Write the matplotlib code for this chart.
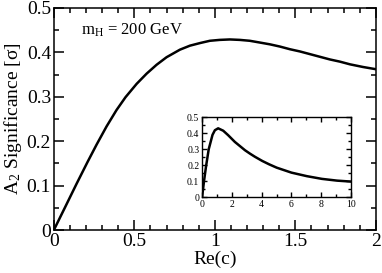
import matplotlib
matplotlib.use("Agg")
import matplotlib.pyplot as plt
from matplotlib.ticker import MultipleLocator, FuncFormatter

# main curve: significance vs Re(c)
re_c = [0, 0.068, 0.141, 0.209, 0.265, 0.327, 0.389, 0.445, 0.514, 0.576,
        0.638, 0.70, 0.783, 0.845, 0.909, 0.969, 1.03, 1.093, 1.155, 1.217,
        1.28, 1.342, 1.404, 1.466, 1.528, 1.59, 1.652, 1.714, 1.777, 1.839,
        1.92, 2.0]
signif = [0, 0.05, 0.104, 0.153, 0.192, 0.233, 0.270, 0.299, 0.329, 0.352,
          0.372, 0.389, 0.406, 0.415, 0.421, 0.426, 0.428, 0.429, 0.428, 0.426,
          0.422, 0.418, 0.413, 0.407, 0.402, 0.396, 0.390, 0.384, 0.379, 0.373,
          0.367, 0.362]

# inset: wider range of Re(c)
re_c_wide = [0, 0.13, 0.265, 0.445, 0.70, 0.86, 1.08, 1.42, 1.75, 2.2,
             2.88, 3.21, 3.55, 4.04, 4.5, 5.01, 6.0, 7.03, 8.04, 9.06, 10]
signif_wide = [0, 0.1, 0.192, 0.299, 0.389, 0.418, 0.43, 0.415, 0.387, 0.345,
               0.293, 0.272, 0.252, 0.226, 0.205, 0.184, 0.153, 0.131, 0.114, 0.103, 0.097]

plt.rcParams["font.family"] = ["Liberation Serif", "DejaVu Serif"]
plt.rcParams["mathtext.fontset"] = "custom"
plt.rcParams["mathtext.rm"] = "Liberation Serif"
plt.rcParams["mathtext.it"] = "Liberation Serif:italic"

fmt = FuncFormatter(lambda v, p: f"{v:g}")


def style_axes(ax, major_len, minor_len, width):
    ax.tick_params(which="both", direction="in", top=True, right=True, width=width)
    ax.tick_params(which="major", length=major_len)
    ax.tick_params(which="minor", length=minor_len)
    for s in ax.spines.values():
        s.set_linewidth(width)
    ax.xaxis.set_major_formatter(fmt)
    ax.yaxis.set_major_formatter(fmt)


fig = plt.figure(figsize=(3.82, 2.73), dpi=100)
ax = fig.add_axes([0.141, 0.1575, 0.843, 0.8135])
ax.plot(re_c, signif, color="black", lw=1.8, solid_joinstyle="round")
ax.set_xlim(0, 2)
ax.set_ylim(0, 0.5)
ax.xaxis.set_major_locator(MultipleLocator(0.5))
ax.xaxis.set_minor_locator(MultipleLocator(0.1))
ax.yaxis.set_major_locator(MultipleLocator(0.1))
ax.yaxis.set_minor_locator(MultipleLocator(0.05))
style_axes(ax, 7, 3.5, 1.1)
ax.tick_params(labelsize=14, pad=2)
ax.set_xlabel("Re(c)", fontsize=14, labelpad=1)
ax.set_ylabel(r"$\mathrm{A_2}$ Significance [σ]", fontsize=14, labelpad=2)
ax.text(0.085, 0.88, r"$\mathrm{m_H}$ = 200 GeV", transform=ax.transAxes, fontsize=12)

# inset
ins = fig.add_axes([0.529, 0.278, 0.390, 0.293])
ins.plot(re_c_wide, signif_wide, color="black", lw=1.8, solid_joinstyle="round")
ins.set_xlim(0, 10)
ins.set_ylim(0, 0.5)
ins.xaxis.set_major_locator(MultipleLocator(2))
ins.xaxis.set_minor_locator(MultipleLocator(1))
ins.yaxis.set_major_locator(MultipleLocator(0.1))
ins.yaxis.set_minor_locator(MultipleLocator(0.05))
style_axes(ins, 3.5, 2, 1.0)
ins.tick_params(labelsize=7, pad=2)

fig.savefig("out.png", dpi=100)
